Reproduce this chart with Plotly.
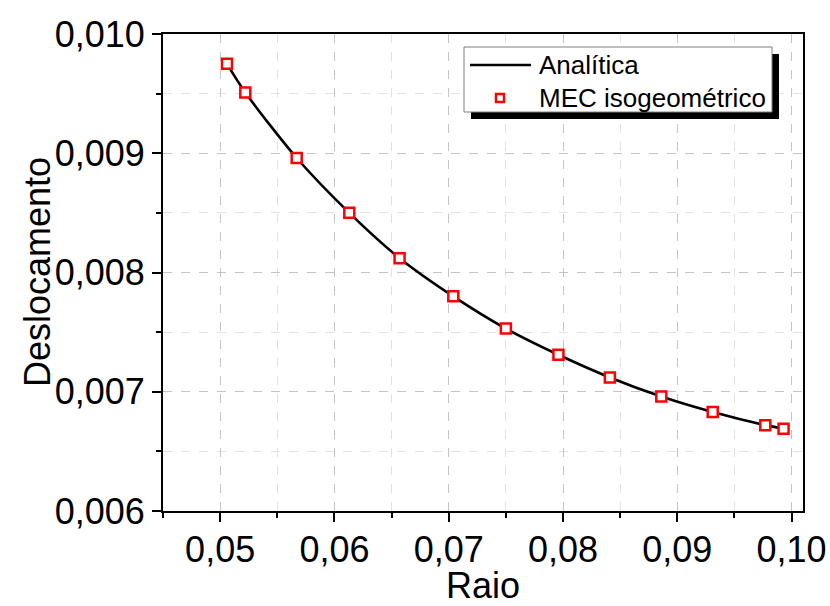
import plotly.graph_objects as go

# Data
raio_mec = [0.0506, 0.0522, 0.0567, 0.0613, 0.0657, 0.0704, 0.0750, 0.0796,
            0.0841, 0.0886, 0.0931, 0.0977, 0.0993]
desl_mec = [0.00975, 0.00951, 0.00896, 0.00850, 0.00812, 0.00780, 0.00753, 0.00731,
            0.00712, 0.00696, 0.00683, 0.00672, 0.00669]
raio_analitica = [0.0506, 0.0522, 0.0567, 0.0613, 0.0657, 0.0704, 0.0750, 0.0796,
                  0.0841, 0.0886, 0.0931, 0.0977, 0.0993]
desl_analitica = [0.00975, 0.00951, 0.00896, 0.00850, 0.00812, 0.00780, 0.00753, 0.00731,
                  0.00712, 0.00696, 0.00683, 0.00672, 0.00669]

legend_labels = ["Analítica", "MEC isogeométrico"]
x_title = "Raio"
y_title = "Deslocamento"

FONT = "Liberation Sans, Arial, sans-serif"
W, H = 830, 606
L, R, T, B = 163, 27, 34, 95
PW, PH = W - L - R, H - T - B


def px(x):
    return (x - L) / PW


def py(y):
    return (H - B - y) / PH


fig = go.Figure()
fig.add_trace(go.Scatter(x=raio_analitica, y=desl_analitica, mode="lines",
                         line=dict(color="black", width=2.6, shape="spline", smoothing=0.8),
                         name=legend_labels[0], showlegend=False))
fig.add_trace(go.Scatter(x=raio_mec, y=desl_mec, mode="markers",
                         marker=dict(symbol="square", size=10, color="white",
                                     line=dict(color="red", width=2.5)),
                         name=legend_labels[1], showlegend=False))

grid_major = "#c4c4c4"
grid_minor = "#e2e2e2"

fig.update_layout(
    width=W, height=H,
    margin=dict(l=L, r=R, t=T, b=B, autoexpand=False),
    paper_bgcolor="white", plot_bgcolor="white",
    separators=",.",
    font=dict(family=FONT, color="black", size=36),
    xaxis=dict(range=[0.045, 0.101], dtick=0.01, tick0=0, tickformat=".2f",
               ticks="outside", ticklen=9, tickwidth=2, tickcolor="black",
               showline=True, linewidth=2, linecolor="black", mirror=True,
               showgrid=True, gridcolor=grid_major, griddash="dash", gridwidth=1,
               zeroline=False, ticklabelstandoff=-3,
               minor=dict(dtick=0.005, ticks="outside", ticklen=5, tickwidth=2,
                          tickcolor="black", showgrid=True, gridcolor=grid_minor,
                          griddash="dash", gridwidth=1),
               tickfont=dict(size=36),
               title=dict(text=x_title, font=dict(size=36), standoff=9)),
    yaxis=dict(range=[0.006, 0.010], dtick=0.001, tick0=0, tickformat=".3f",
               ticks="outside", ticklen=9, tickwidth=2, tickcolor="black",
               showline=True, linewidth=2, linecolor="black", mirror=True,
               showgrid=True, gridcolor=grid_major, griddash="dash", gridwidth=1,
               zeroline=False,
               minor=dict(dtick=0.0005, ticks="outside", ticklen=5, tickwidth=2,
                          tickcolor="black", showgrid=True, gridcolor=grid_minor,
                          griddash="dash", gridwidth=1),
               tickfont=dict(size=36)),
    xaxis2=dict(overlaying="x", side="top", anchor="y", range=[0, 5], dtick=1,
                showticklabels=False, ticks="inside", ticklen=9, tickwidth=2,
                tickcolor="black", showgrid=False, zeroline=False, showline=False,
                minor=dict(dtick=0.5, ticks="inside", ticklen=5, tickwidth=2,
                           tickcolor="black", showgrid=False)),
    yaxis2=dict(overlaying="y", side="right", anchor="x", range=[0, 5], dtick=1,
                showticklabels=False, ticks="inside", ticklen=9, tickwidth=2,
                tickcolor="black", showgrid=False, zeroline=False, showline=False,
                minor=dict(dtick=0.5, ticks="inside", ticklen=5, tickwidth=2,
                           tickcolor="black", showgrid=False)),
    showlegend=False,
)

# Manual legend (box with shadow)
shapes = [
    dict(type="rect", xref="paper", yref="paper", layer="above",
         x0=px(471), x1=px(779), y0=py(119), y1=py(54),
         fillcolor="black", line=dict(width=0)),
    dict(type="rect", xref="paper", yref="paper", layer="above",
         x0=px(464), x1=px(772), y0=py(112), y1=py(47),
         fillcolor="white", line=dict(color="#7f7f7f", width=1)),
    dict(type="line", xref="paper", yref="paper", layer="above",
         x0=px(470), x1=px(531), y0=py(65), y1=py(65),
         line=dict(color="black", width=2.6)),
    dict(type="rect", xref="paper", yref="paper", layer="above",
         x0=px(496), x1=px(504), y0=py(102), y1=py(94),
         fillcolor="white", line=dict(color="red", width=2.5)),
]
annotations = [
    dict(text=legend_labels[0], xref="paper", yref="paper", x=px(537), y=py(65),
         xanchor="left", yanchor="middle", showarrow=False,
         font=dict(size=26, family=FONT, color="black")),
    dict(text=legend_labels[1], xref="paper", yref="paper", x=px(537), y=py(98),
         xanchor="left", yanchor="middle", showarrow=False,
         font=dict(size=26, family=FONT, color="black")),
    dict(text=y_title, xref="paper", yref="paper", x=px(37), y=py(272),
         xanchor="center", yanchor="middle", showarrow=False, textangle=-90,
         font=dict(size=36, family=FONT, color="black")),
]
fig.update_layout(shapes=shapes, annotations=annotations)

fig.write_html("out.html")
